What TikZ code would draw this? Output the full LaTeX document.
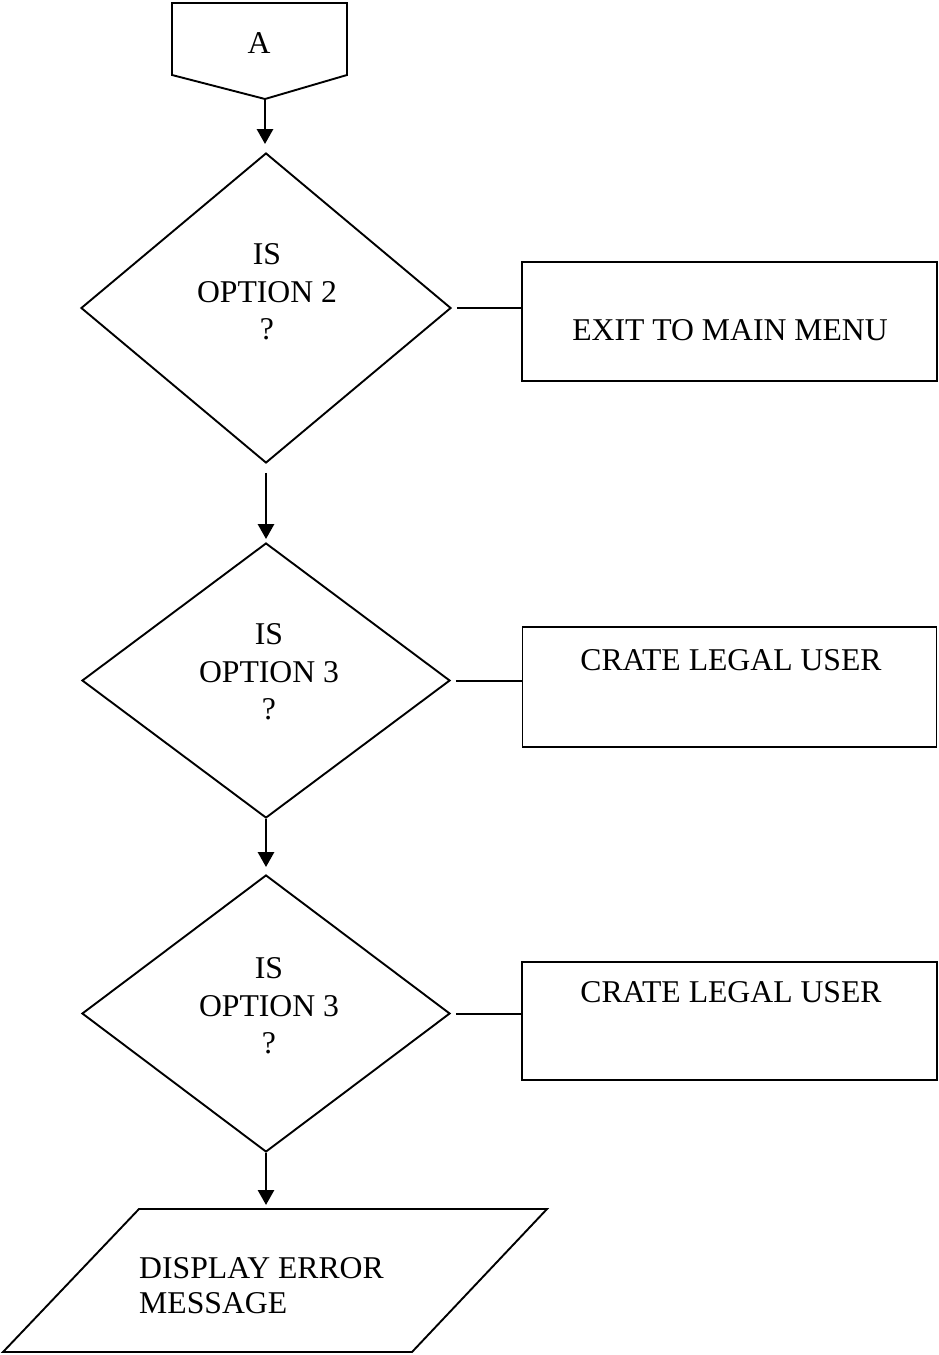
\documentclass[tikz,border=0pt]{standalone}
\usepackage{fontspec}
\setmainfont{Liberation Serif}
\usetikzlibrary{shapes.geometric,arrows.meta}
\begin{document}
\begin{tikzpicture}[x=1pt,y=-1pt,
  outline/.style={draw=black, line width=1.9pt},
  decision/.style={outline, diamond, inner sep=0pt},
  procbox/.style={outline, rectangle, inner sep=0pt},
  lbl/.style={font=\fontsize{31.7}{37.5}\selectfont, align=center, inner sep=0pt},
  flow/.style={line width=2.8pt, -{Triangle[length=15pt,width=16pt]}},
  link/.style={line width=2pt}]
\useasboundingbox (0,0) rectangle (939,1355);

% off-page connector
\coordinate (aTip) at (265,99);
\draw[outline, line join=miter] (172,3) -- (347,3) -- (347,75) -- (aTip) -- (172,75) -- cycle;
\node[lbl] (aLbl) at (259,43) {A};

% decisions
\node[decision, minimum width=370pt, minimum height=310pt] (d1) at (266,308) {};
\node[lbl] (d1t) at (267,292) {IS\\OPTION 2\\?};
\node[decision, minimum width=368pt, minimum height=275pt] (d2) at (266,680.5) {};
\node[lbl] (d2t) at (269,672) {IS\\OPTION 3\\?};
\node[decision, minimum width=368pt, minimum height=277pt] (d3) at (266,1013.5) {};
\node[lbl] (d3t) at (269,1006) {IS\\OPTION 3\\?};

% process boxes
\node[procbox, minimum width=415pt, minimum height=119pt] (b1) at (729.5,321.5) {};
\node[lbl] (b1t) at (730,330) {EXIT TO MAIN MENU};
\node[procbox, minimum width=414pt, minimum height=120pt] (b2) at (729.5,687) {};
\node[lbl] (b2t) at (731,660) {CRATE LEGAL USER};
\node[procbox, minimum width=415pt, minimum height=118pt] (b3) at (729.5,1021) {};
\node[lbl] (b3t) at (731,992) {CRATE LEGAL USER};

% output parallelogram
\coordinate (pTL) at (139,1209);
\coordinate (pTR) at (547,1209);
\coordinate (pBR) at (412,1352);
\coordinate (pBL) at (3,1352);
\coordinate (pTop) at (266,1209);
\draw[outline, line join=miter] (pTL) -- (pTR) -- (pBR) -- (pBL) -- cycle;
\node[lbl, font=\fontsize{31.7}{35}\selectfont, align=left, anchor=west] (pt) at (139,1286) {DISPLAY ERROR\\MESSAGE};

% flow arrows
\draw[flow, shorten >=8pt] (aTip) -- (aTip |- d1.north);
\draw[flow, shorten <=9pt, shorten >=3pt] (d1.south) -- (d2.north);
\draw[flow, shorten >=7pt] (d2.south) -- (d3.north);
\draw[flow, shorten >=4pt] (d3.south) -- (pTop);

% side links
\draw[link, shorten <=5pt] (d1.east) -- (d1.east -| b1.west);
\draw[link, shorten <=5pt] (d2.east) -- (d2.east -| b2.west);
\draw[link, shorten <=5pt] (d3.east) -- (d3.east -| b3.west);
\end{tikzpicture}
\end{document}
